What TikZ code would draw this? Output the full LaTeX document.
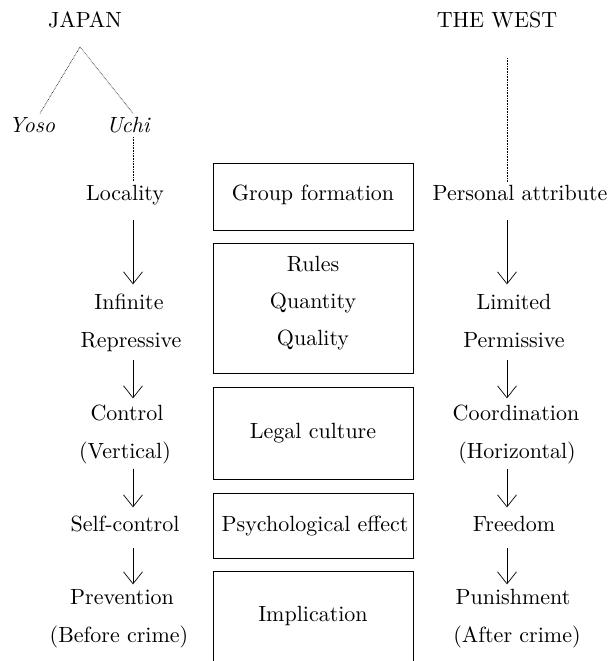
\documentclass[tikz,border=0pt]{standalone}
\usepackage{tikz}
\usetikzlibrary{positioning,arrows.meta}

\tikzset{
  lbl/.style={inner sep=1pt, font=\fontsize{10}{12}\selectfont, scale=2.2, transform shape,
    text height=7.5pt, text depth=2.5pt},
  stack/.style={inner sep=1pt, font=\fontsize{10}{12}\selectfont, scale=2.2, transform shape,
    align=center},
  frame/.style={draw, line width=0.9pt, minimum width=200pt, inner sep=0pt},
  dots/.style={line width=0.6pt, dash pattern=on 0.7pt off 0.9pt},
  flow/.style={->, line width=0.7pt, shorten <=4pt, shorten >=3pt}
}

\begin{document}
\begin{tikzpicture}[x=1pt, y=-1pt, >={Straight Barb[length=12pt,width=19pt]}]
  \useasboundingbox (0,0) rectangle (609,661);

  % headings
  \node[lbl] (japan) at (85,22) {JAPAN};
  \node[lbl] (west) at (497,22) {THE WEST};
  \node[lbl] (yoso) at (32,127) {\itshape Yoso};
  \node[lbl] (uchi) at (128,127) {\itshape Uchi};

  % left column
  \node[lbl] (locality) at (125,195) {Locality};
  \node[lbl] (infinite) at (129,304) {Infinite};
  \node[lbl] (repress) at (131,342) {Repressive};
  \node[lbl] (control) at (127,415) {Control};
  \node[lbl] (vertical) at (125,453) {(Vertical)};
  \node[lbl] (selfc) at (125,526) {Self-control};
  \node[lbl] (prevent) at (122,599) {Prevention};
  \node[lbl] (before) at (119,637) {(Before crime)};

  % middle boxes
  \node[frame, minimum height=67pt] (grp) at (313,196.5) {};
  \node[frame, minimum height=130pt] (rules) at (313,308) {};
  \node[frame, minimum height=92pt] (legal) at (313,433) {};
  \node[frame, minimum height=65pt] (psych) at (313,525.5) {};
  \node[frame, minimum height=92pt] (impl) at (313,617) {};
  \node[lbl] (grptxt) at (313,195) {Group formation};
  \node[stack] (rulestxt) at (313,303) {Rules\\[4.8pt]Quantity\\[4.8pt]Quality};
  \node[lbl] (legaltxt) at (313,433) {Legal culture};
  \node[lbl] (psychtxt) at (315,526) {Psychological effect};
  \node[lbl] (impltxt) at (313,616) {Implication};

  % right column
  \node[lbl] (personal) at (520,195) {Personal attribute};
  \node[lbl] (limited) at (514,304) {Limited};
  \node[lbl] (permit) at (514,342) {Permissive};
  \node[lbl] (coord) at (516,415) {Coordination};
  \node[lbl] (horiz) at (517,453) {(Horizontal)};
  \node[lbl] (freedom) at (514,526) {Freedom};
  \node[lbl] (punish) at (513,599) {Punishment};
  \node[lbl] (after) at (517,637) {(After crime)};

  % dotted links
  \coordinate (jtop) at (80,47);
  \coordinate (wtop) at (507,58);
  \coordinate (uchibot) at (133,137);
  \draw[dots] (jtop) -- ([xshift=8pt]yoso.north);
  \draw[dots] (jtop) -- ([xshift=5pt]uchi.north);
  \draw[dots] (uchibot) -- (uchibot |- locality.north);
  \draw[dots] (wtop) -- (wtop |- personal.north);

  % arrows
  \draw[flow, shorten <=11pt, shorten >=6pt] (locality.south -| 133,0) -- (infinite.north -| 133,0);
  \draw[flow] (repress.south -| 133,0) -- (control.north -| 133,0);
  \draw[flow, shorten <=2pt, shorten >=5pt] (vertical.south -| 133,0) -- (selfc.north -| 133,0);
  \draw[flow, shorten <=8pt, shorten >=1pt] (selfc.south -| 133,0) -- (prevent.north -| 133,0);
  \draw[flow, shorten <=11pt, shorten >=6pt] (personal.south -| 507,0) -- (limited.north -| 507,0);
  \draw[flow] (permit.south -| 507,0) -- (coord.north -| 507,0);
  \draw[flow, shorten <=2pt, shorten >=5pt] (horiz.south -| 507,0) -- (freedom.north -| 507,0);
  \draw[flow, shorten <=8pt, shorten >=1pt] (freedom.south -| 507,0) -- (punish.north -| 507,0);
\end{tikzpicture}
\end{document}
